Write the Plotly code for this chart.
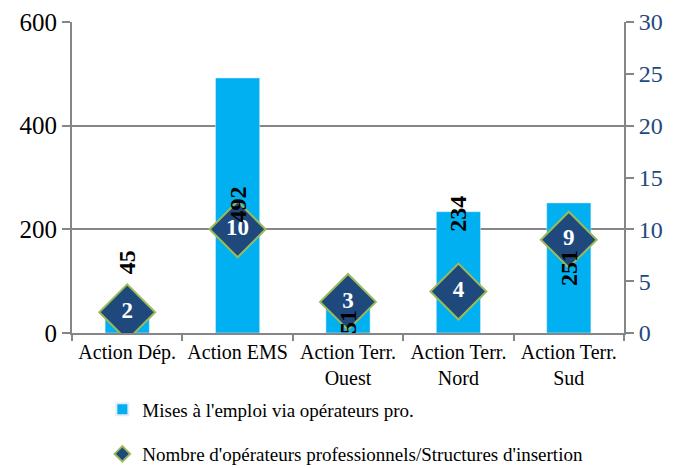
import plotly.graph_objects as go
from plotly.subplots import make_subplots

# Données
categories = ["Action Dép.", "Action EMS", "Action Terr.<br>Ouest",
              "Action Terr.<br>Nord", "Action Terr.<br>Sud"]
mises_emploi = [45, 492, 51, 234, 251]
nb_operateurs = [2, 10, 3, 4, 9]

# Position verticale des étiquettes de barres (placées à la main dans l'original)
label_pos = [137, 247, 21, 231, 125]

serif = "Liberation Serif, Times New Roman, serif"
grey = "#868686"

fig = make_subplots(specs=[[{"secondary_y": True}]])

fig.add_trace(go.Bar(
    x=categories, y=mises_emploi, name="Mises à l'emploi via opérateurs pro.",
    marker=dict(color="#00B0F0"), width=0.4, legendgroup="a",
), secondary_y=False)

fig.add_trace(go.Scatter(
    x=categories, y=nb_operateurs, mode="markers+text",
    name="Nombre d'opérateurs professionnels/Structures d'insertion",
    marker=dict(symbol="diamond", size=43, color="#1F497D",
                line=dict(color="#9BBB59", width=2)),
    text=[str(v) for v in nb_operateurs], textposition="middle center",
    textfont=dict(family=serif, size=23, color="white", weight="bold"),
    legendgroup="b",
), secondary_y=True)

# Étiquettes des barres, verticales
for c, v, p in zip(categories, mises_emploi, label_pos):
    fig.add_annotation(x=c, y=p, yref="y", text=str(v), textangle=-90,
                       showarrow=False,
                       font=dict(family=serif, size=24, color="black", weight="bold"))

# la page ajoute 8 px de marge au body : on compense ici
fig.update_layout(
    width=675, height=468,
    margin=dict(l=64, r=59, t=14, b=143),
    plot_bgcolor="white", paper_bgcolor="white",
    font=dict(family=serif, size=20, color="black"),
    showlegend=True,
    legend=dict(x=0.055, y=0.183, xref="paper", yref="container",
                xanchor="left", yanchor="top",
                orientation="v", tracegroupgap=17, itemsizing="constant",
                font=dict(family=serif, size=19, color="black")),
)

fig.update_xaxes(domain=[0, 1], showline=True, linecolor=grey, linewidth=2,
                 ticks="outside", tickcolor=grey, ticklen=6, tickwidth=2,
                 tickson="boundaries", tickangle=0, automargin=False,
                 tickfont=dict(family=serif, size=20))
fig.update_yaxes(range=[0, 600], dtick=200, showgrid=True, gridcolor=grey,
                 gridwidth=2, showline=True, linecolor=grey, linewidth=2,
                 ticks="outside", tickcolor=grey, ticklen=8, tickwidth=2,
                 zeroline=False, automargin=False,
                 tickfont=dict(family=serif, size=25, color="black"),
                 secondary_y=False)
fig.update_yaxes(range=[0, 30], dtick=5, showgrid=False, showline=True,
                 linecolor=grey, linewidth=2, ticks="outside", tickcolor=grey,
                 ticklen=8, tickwidth=2, zeroline=False, automargin=False,
                 tickfont=dict(family=serif, size=24, color="#1F497D"),
                 secondary_y=True)

fig.write_html("out.html")
